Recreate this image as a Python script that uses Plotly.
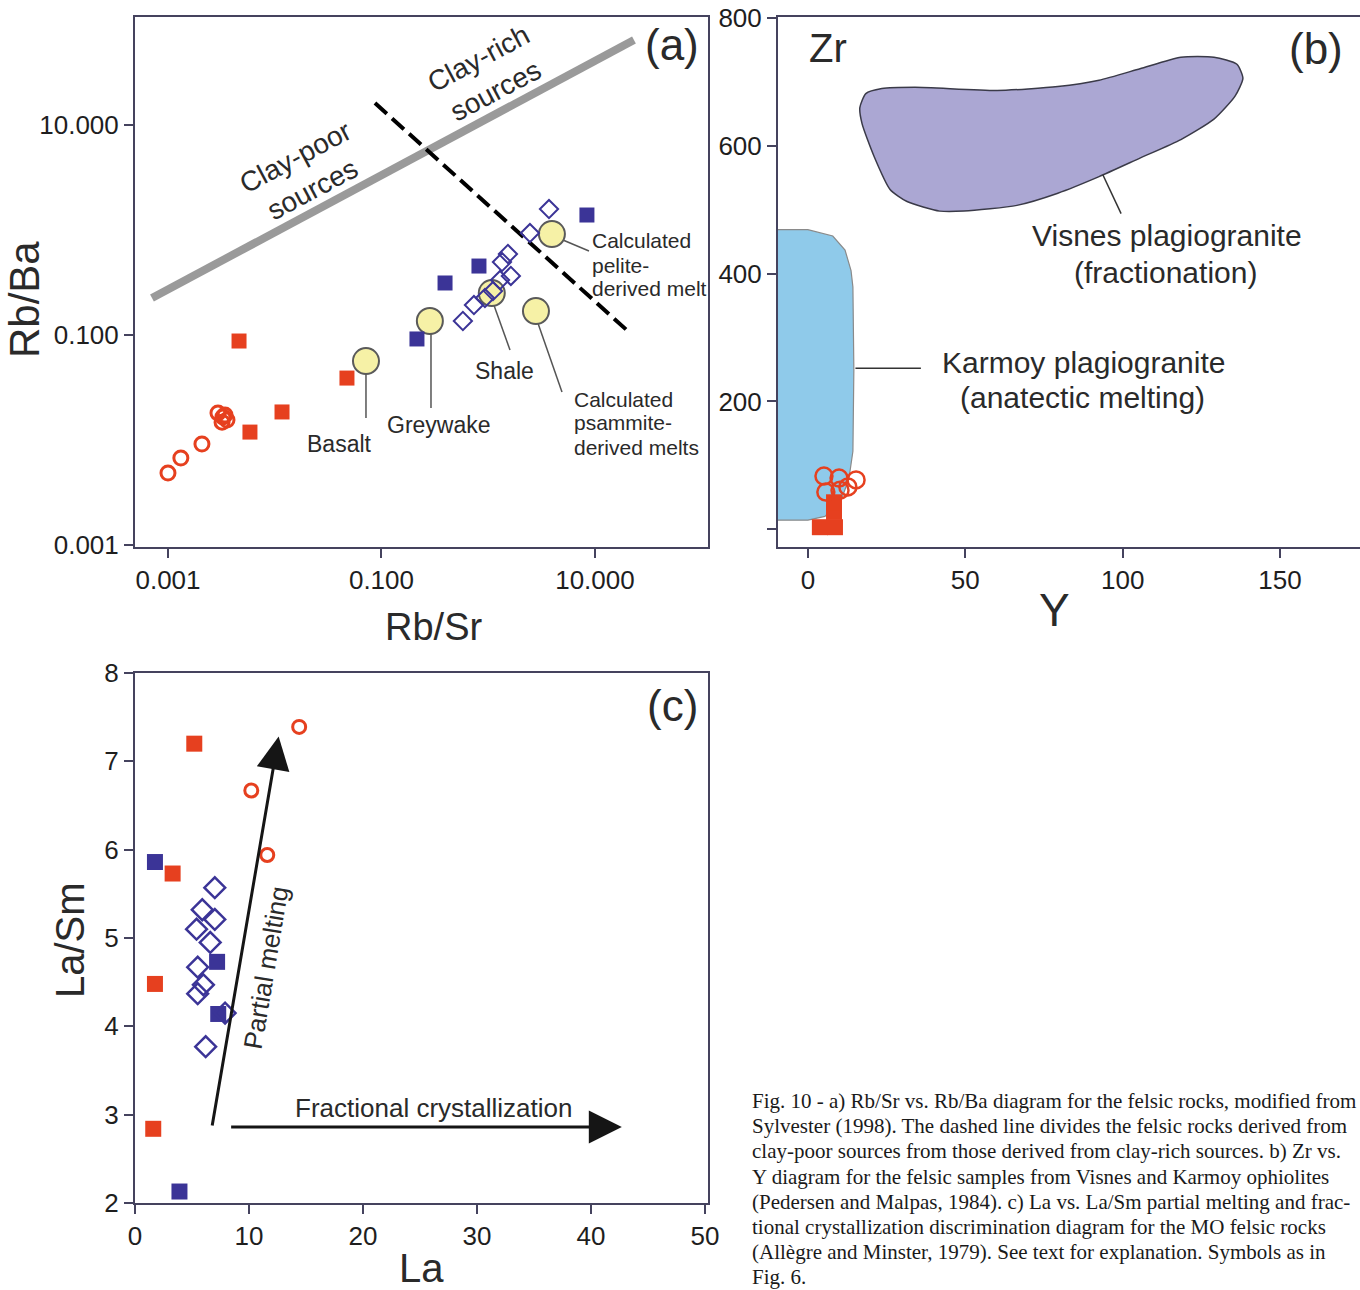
import math
import plotly.graph_objects as go

W, H = 1360, 1290
SANS = "Liberation Sans, Arial, Helvetica, sans-serif"
SERIF = "Liberation Serif, Times New Roman, serif"
RED = "#e6401f"
BLUE = "#3b3497"
AX = "#45435e"
TXT = "#2a2a2a"

# ---------------- Panel (a): Rb/Sr vs Rb/Ba ----------------
a_red_circ_rbsr = [0.00100, 0.00132, 0.00208, 0.00294, 0.00327, 0.00357, 0.00342, 0.00321]
a_red_circ_rbba = [0.00485, 0.00674, 0.00916, 0.0181, 0.0166, 0.0155, 0.0173, 0.0148]
a_red_sq_rbsr = [0.00463, 0.0117, 0.00586, 0.0475]
a_red_sq_rbba = [0.0877, 0.0185, 0.0119, 0.0389]
a_blue_sq_rbsr = [0.215, 0.394, 0.819, 8.41]
a_blue_sq_rbba = [0.0917, 0.313, 0.454, 1.39]
a_blue_dia_rbsr = [3.71, 2.46, 1.53, 1.345, 1.63, 1.29, 1.108, 0.932, 0.735, 0.579]
a_blue_dia_rbba = [1.585, 0.936, 0.591, 0.496, 0.365, 0.334, 0.262, 0.225, 0.193, 0.136]

ref_names = ["Basalt", "Greywake", "Shale", "Calculated psammite-derived melts",
             "Calculated pelite-derived melt"]
ref_rbsr = [0.0716, 0.284, 1.08, 2.80, 3.95]
ref_rbba = [0.0565, 0.136, 0.251, 0.169, 0.916]
# leader lines from reference circles to their labels
lead_rbsr_start = [0.0716, 0.291, 1.13, 2.92, 5.01]
lead_rbba_start = [0.0434, 0.1045, 0.193, 0.130, 0.803]
lead_rbsr_end = [0.0716, 0.291, 1.60, 4.91, 8.79]
lead_rbba_end = [0.0162, 0.0202, 0.0720, 0.0287, 0.631]

clay_line_rbsr = [0.000708, 23.2]
clay_line_rbba = [0.225, 64.5]
divide_line_rbsr = [0.0869, 21.3]
divide_line_rbba = [16.2, 0.1045]

a_tickvals = [0.001, 0.1, 10]
a_ticktext = ["0.001", "0.100", "10.000"]

# ---------------- Panel (b): Y vs Zr ----------------
karmoy_y = [-14, 0, 7.9, 11.8, 13.7, 14.3, 14.6, 14.3, 13.0, 10.5, 5.4, 0, -14]
karmoy_zr = [469, 469, 459, 437, 405, 379, 250, 122, 78, 45, 20, 14, 14]
visnes_y = [16.5, 18.4, 23.5, 34.0, 60.1, 79.4, 92.5, 105.5, 118.5, 129.0, 136.3, 138.2,
            135.7, 129.0, 118.5, 105.5, 92.5, 79.4, 66.4, 49.6, 41.9, 31.5, 26.1, 21.0, 17.2, 16.5]
visnes_zr = [660, 682, 690, 692, 687, 693, 703, 721, 739, 739, 728, 706,
             678, 642, 610, 581, 552, 526, 507, 498, 498, 513, 532, 584, 635, 660]
visnes_leader_y = [93.7, 99.5]
visnes_leader_zr = [555, 494]
karmoy_leader_y = [15.1, 35.9]
karmoy_leader_zr = [252, 252]
b_red_circ_y = [5.1, 9.9, 15.3, 12.7, 5.7, 10.2]
b_red_circ_zr = [83, 80, 77, 66, 58, 61]
b_red_sq_y = [3.8, 8.6, 8.3, 8.3]
b_red_sq_zr = [3, 3, 27, 42]
b_tickvals_zr = [0, 200, 400, 600, 800]
b_ticktext_zr = ["", "200", "400", "600", "800"]
b_tickvals_y = [0, 50, 100, 150]

# ---------------- Panel (c): La vs La/Sm ----------------
c_red_sq_la = [5.2, 3.3, 1.75, 1.6]
c_red_sq_lasm = [7.2, 5.73, 4.48, 2.84]
c_blue_sq_la = [1.75, 7.2, 7.3, 3.9]
c_blue_sq_lasm = [5.86, 4.73, 4.14, 2.13]
c_red_circ_la = [14.4, 10.2, 11.6]
c_red_circ_lasm = [7.39, 6.67, 5.94]
c_blue_dia_la = [7.0, 5.9, 7.0, 5.4, 6.6, 5.5, 6.0, 5.5, 6.2, 7.9]
c_blue_dia_lasm = [5.57, 5.32, 5.21, 5.10, 4.95, 4.67, 4.47, 4.37, 3.77, 4.15]
pm_arrow_la = [6.75, 12.6]
pm_arrow_lasm = [2.86, 7.28]
fc_arrow_la = [8.3, 42.7]
fc_arrow_lasm = [2.86, 2.86]

caption_lines = [
    "Fig. 10 - a) Rb/Sr vs. Rb/Ba diagram for the felsic rocks, modified from",
    "Sylvester (1998). The dashed line divides the felsic rocks derived from",
    "clay-poor sources from those derived from clay-rich sources. b) Zr vs.",
    "Y diagram for the felsic samples from Visnes and Karmoy ophiolites",
    "(Pedersen and Malpas, 1984). c) La vs. La/Sm partial melting and frac-",
    "tional crystallization discrimination diagram for the MO felsic rocks",
    "(All\u00e8gre and Minster, 1979). See text for explanation. Symbols as in",
    "Fig. 6.",
]


def P(xp, yp):
    return xp / W, 1 - yp / H


fig = go.Figure()

# ---- panel (a) traces ----
fig.add_trace(go.Scatter(x=clay_line_rbsr, y=clay_line_rbba, mode="lines",
                         line=dict(color="#9a9a9a", width=8), xaxis="x", yaxis="y"))
fig.add_trace(go.Scatter(x=divide_line_rbsr, y=divide_line_rbba, mode="lines",
                         line=dict(color="#000000", width=4, dash="16px,7px"), xaxis="x", yaxis="y"))
for i in range(len(ref_names)):
    fig.add_trace(go.Scatter(x=[lead_rbsr_start[i], lead_rbsr_end[i]],
                             y=[lead_rbba_start[i], lead_rbba_end[i]], mode="lines",
                             line=dict(color="#555555", width=1.5), xaxis="x", yaxis="y"))
fig.add_trace(go.Scatter(x=ref_rbsr, y=ref_rbba, mode="markers", text=ref_names,
                         marker=dict(symbol="circle", size=26, color="#f6f1a6",
                                     line=dict(color="#5a5a5a", width=2)), xaxis="x", yaxis="y"))
fig.add_trace(go.Scatter(x=a_red_circ_rbsr, y=a_red_circ_rbba, mode="markers",
                         marker=dict(symbol="circle-open", size=14, color=RED, line=dict(width=3)),
                         xaxis="x", yaxis="y"))
fig.add_trace(go.Scatter(x=a_red_sq_rbsr, y=a_red_sq_rbba, mode="markers",
                         marker=dict(symbol="square", size=15, color=RED), xaxis="x", yaxis="y"))
fig.add_trace(go.Scatter(x=a_blue_sq_rbsr, y=a_blue_sq_rbba, mode="markers",
                         marker=dict(symbol="square", size=15, color=BLUE), xaxis="x", yaxis="y"))
fig.add_trace(go.Scatter(x=a_blue_dia_rbsr, y=a_blue_dia_rbba, mode="markers",
                         marker=dict(symbol="diamond-open", size=14, color=BLUE, line=dict(width=2)),
                         xaxis="x", yaxis="y"))

# ---- panel (b) traces ----
fig.add_trace(go.Scatter(x=karmoy_y, y=karmoy_zr, mode="lines", fill="toself",
                         fillcolor="#8fcaea", line=dict(color="#8a8a8a", width=1.2),
                         xaxis="x2", yaxis="y2"))
fig.add_trace(go.Scatter(x=visnes_y, y=visnes_zr, mode="lines", fill="toself",
                         fillcolor="#aba7d3", line=dict(color="#3a3a48", width=1.5, shape="spline",
                                                          smoothing=0.6),
                         xaxis="x2", yaxis="y2"))
fig.add_trace(go.Scatter(x=visnes_leader_y, y=visnes_leader_zr, mode="lines",
                         line=dict(color="#333333", width=1.5), xaxis="x2", yaxis="y2"))
fig.add_trace(go.Scatter(x=karmoy_leader_y, y=karmoy_leader_zr, mode="lines",
                         line=dict(color="#333333", width=1.5), xaxis="x2", yaxis="y2"))
fig.add_trace(go.Scatter(x=b_red_sq_y, y=b_red_sq_zr, mode="markers",
                         marker=dict(symbol="square", size=16, color=RED), xaxis="x2", yaxis="y2"))
fig.add_trace(go.Scatter(x=b_red_circ_y, y=b_red_circ_zr, mode="markers",
                         marker=dict(symbol="circle-open", size=17, color=RED, line=dict(width=2.5)),
                         xaxis="x2", yaxis="y2"))

# ---- panel (c) traces ----
fig.add_trace(go.Scatter(x=c_red_sq_la, y=c_red_sq_lasm, mode="markers",
                         marker=dict(symbol="square", size=16, color=RED), xaxis="x3", yaxis="y3"))
fig.add_trace(go.Scatter(x=c_blue_sq_la, y=c_blue_sq_lasm, mode="markers",
                         marker=dict(symbol="square", size=16, color=BLUE), xaxis="x3", yaxis="y3"))
fig.add_trace(go.Scatter(x=c_blue_dia_la, y=c_blue_dia_lasm, mode="markers",
                         marker=dict(symbol="diamond-open", size=16, color=BLUE, line=dict(width=2.5)),
                         xaxis="x3", yaxis="y3"))
fig.add_trace(go.Scatter(x=c_red_circ_la, y=c_red_circ_lasm, mode="markers",
                         marker=dict(symbol="circle-open", size=13, color=RED, line=dict(width=3)),
                         xaxis="x3", yaxis="y3"))

tickfont = dict(family=SANS, size=26, color="#1e1e1e")
common = dict(showline=True, linecolor=AX, linewidth=2, ticks="outside", ticklen=9,
              tickwidth=1.5, tickcolor=AX, showgrid=False, zeroline=False, tickfont=tickfont,
              automargin=False)

xa0, _ = P(135, 0)
xa1, _ = P(708, 0)
_, ya0 = P(0, 547)
_, ya1 = P(0, 17)
xb0, _ = P(778, 0)
_, yc0 = P(0, 1203)
_, yc1 = P(0, 673)

annotations = []


def txt(text, xp, yp, size, angle=0, xanchor="center", family=SANS, color=TXT):
    x, y = P(xp, yp)
    annotations.append(dict(text=text, x=x, y=y, xref="paper", yref="paper", showarrow=False,
                            xanchor=xanchor, yanchor="middle", textangle=angle,
                            font=dict(family=family, size=size, color=color)))


# panel (a) texts
txt("(a)", 672, 45, 44)
txt("Rb/Ba", 25, 300, 42, angle=-90)
txt("Rb/Sr", 433, 627, 38)
txt("Clay-poor<br>sources", 303, 173, 28, angle=-28)
txt("Clay-rich<br>sources", 487, 75, 28, angle=-28)
txt("Basalt", 339, 444, 23)
txt("Greywake", 439, 425, 23)
txt("Shale", 504, 371, 23)
for i, line in enumerate(["Calculated", "psammite-", "derived melts"]):
    txt(line, 572, 399 + 24 * i, 21, xanchor="left")
for i, line in enumerate(["Calculated", "pelite-", "derived melt"]):
    txt(line, 590, 241 + 24 * i, 21, xanchor="left")

# panel (b) texts
txt("Zr", 828, 48, 40)
txt("(b)", 1316, 48, 44)
txt("Y", 1054, 610, 46)
txt("Visnes plagiogranite", 1167, 236, 30)
txt("(fractionation)", 1165, 272, 30)
txt("Karmoy plagiogranite", 1084, 362, 30)
txt("(anatectic melting)", 1082, 398, 30)

# panel (c) texts
txt("(c)", 672, 705, 44)
txt("La/Sm", 70, 940, 40, angle=-90)
txt("La", 421, 1268, 40)
txt("Partial melting", 266, 968, 26, angle=-80.5)
txt("Fractional crystallization", 433, 1108, 26)

# caption
for i, line in enumerate(caption_lines):
    txt(line, 750, 1101 + 25.2 * i, 21, xanchor="left", family=SERIF, color="#1a1a1a")

# arrows in panel (c)
for xs, ys in [(pm_arrow_la, pm_arrow_lasm), (fc_arrow_la, fc_arrow_lasm)]:
    annotations.append(dict(x=xs[1], y=ys[1], ax=xs[0], ay=ys[0], xref="x3", yref="y3",
                            axref="x3", ayref="y3", text="", showarrow=True, arrowhead=2,
                            arrowsize=2.2, arrowwidth=3, arrowcolor="#151515", standoff=0))

fig.update_layout(
    width=W, height=H, margin=dict(l=0, r=0, t=0, b=0, pad=0, autoexpand=False),
    paper_bgcolor="white", plot_bgcolor="white", showlegend=False,
    xaxis=dict(domain=[xa0, xa1], anchor="y", type="log", range=[-3.309, 2.059],
               tickvals=a_tickvals, ticktext=a_ticktext, mirror=True, **common),
    yaxis=dict(domain=[ya0, ya1], anchor="x", type="log", range=[-3.019, 2.029],
               tickvals=a_tickvals, ticktext=a_ticktext, mirror=True, **common),
    xaxis2=dict(domain=[xb0, 1.0], anchor="y2", range=[-9.5, 175.4], tickvals=b_tickvals_y,
                mirror=True, **common),
    yaxis2=dict(domain=[ya0, ya1], anchor="x2", range=[-28, 802], tickvals=b_tickvals_zr,
                ticktext=b_ticktext_zr, **common),
    xaxis3=dict(domain=[xa0, xa1], anchor="y3", range=[0, 50.26], tickvals=[0, 10, 20, 30, 40, 50],
                mirror=True, **common),
    yaxis3=dict(domain=[yc0, yc1], anchor="x3", range=[2, 8], tickvals=[2, 3, 4, 5, 6, 7, 8],
                mirror=True, **common),
    annotations=annotations,
)

fig.write_html("out.html")
